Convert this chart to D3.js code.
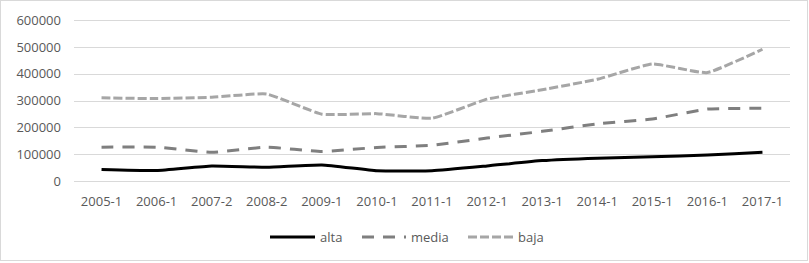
<!DOCTYPE html>
<html>
<head>
<meta charset="utf-8">
<script src="https://cdn.jsdelivr.net/npm/d3@7"></script>
<style>
    body { margin: 0; background: #fff; }
    svg text { font-family: "Open Sans", sans-serif; fill: #595959; }
</style>
</head>
<body>
<div id="chart"></div>
<script>

var categories = [ '2005-1', '2006-1', '2007-2', '2008-2', '2009-1', '2010-1', '2011-1',
                   '2012-1', '2013-1', '2014-1', '2015-1', '2016-1', '2017-1' ];

var alta  = [ 43000, 39000, 56000, 51000, 60000, 38000, 38000, 56000, 76000, 85000, 90000, 97000, 107000 ];
var media = [ 126000, 126000, 107000, 126000, 110000, 125000, 133000, 160000, 185000, 213000, 231000, 268000, 271000 ];
var baja  = [ 310000, 307000, 312000, 324000, 249000, 251000, 234000, 305000, 340000, 379000, 436000, 404000, 491000 ];

var yTicks = [ 0, 100000, 200000, 300000, 400000, 500000, 600000 ];

var series = [
    { name: 'alta',  values: alta,  color: '#000000', dash: null },
    { name: 'media', values: media, color: '#7f7f7f', dash: '12,9' },
    { name: 'baja',  values: baja,  color: '#a6a6a6', dash: '9,3' }
];

var width = 809,
    height = 263;

var margin = { left: 74, right: 19, top: 20, bottom: 82 };

var svg = d3.select('#chart').append('svg')
    .attr('width', width)
    .attr('height', height);

// outer border
svg.append('rect')
    .attr('x', 0.5)
    .attr('y', 0.5)
    .attr('width', 807)
    .attr('height', 260)
    .style('fill', '#fff')
    .style('stroke', '#d9d9d9');

var x = d3.scaleBand()
    .domain( categories )
    .range([ margin.left, width - margin.right ]);

var y = d3.scaleLinear()
    .domain([ 0, 600000 ])
    .range([ height - margin.bottom, margin.top ]);

// gridlines
svg.append('g')
    .selectAll('line')
    .data( yTicks )
    .enter().append('line')
    .attr('x1', margin.left)
    .attr('x2', width - margin.right)
    .attr('y1', function ( d ) { return Math.round( y( d ) ) + 0.5 })
    .attr('y2', function ( d ) { return Math.round( y( d ) ) + 0.5 })
    .style('stroke', '#d9d9d9')
    .style('stroke-width', 1);

// y labels
svg.append('g')
    .selectAll('text')
    .data( yTicks )
    .enter().append('text')
    .attr('x', 61)
    .attr('y', function ( d ) { return y( d ) })
    .attr('dy', '0.36em')
    .attr('text-anchor', 'end')
    .style('font-size', '13px')
    .text( function ( d ) { return d });

// x labels
svg.append('g')
    .selectAll('text')
    .data( categories )
    .enter().append('text')
    .attr('x', function ( d ) { return x( d ) + x.bandwidth() / 2 })
    .attr('y', 206)
    .attr('text-anchor', 'middle')
    .style('font-size', '13px')
    .text( function ( d ) { return d });

var line = d3.line()
    .x( function ( d, i ) { return x( categories[ i ] ) + x.bandwidth() / 2 })
    .y( function ( d ) { return y( d ) })
    .curve( d3.curveCardinal.tension( 0.6 ) );

// lines (draw baja first so alta sits on top)
series.slice().reverse().forEach( function ( s ) {

    svg.append('path')
        .datum( s.values )
        .attr('d', line)
        .style('fill', 'none')
        .style('stroke', s.color)
        .style('stroke-width', 3)
        .style('stroke-dasharray', s.dash);

});

// legend
var legendItems = [
    { x1: 270, x2: 315, tx: 320 },
    { x1: 362, x2: 406, tx: 411 },
    { x1: 468, x2: 513, tx: 518 }
];

var legendY = 237;

series.forEach( function ( s, i ) {

    var l = legendItems[ i ];

    svg.append('line')
        .attr('x1', l.x1)
        .attr('x2', l.x2)
        .attr('y1', legendY)
        .attr('y2', legendY)
        .style('stroke', s.color)
        .style('stroke-width', 3)
        .style('stroke-dasharray', s.dash);

    svg.append('text')
        .attr('x', l.tx)
        .attr('y', legendY)
        .attr('dy', '0.36em')
        .style('font-size', '13px')
        .text( s.name );

});

</script>
</body>
</html>
